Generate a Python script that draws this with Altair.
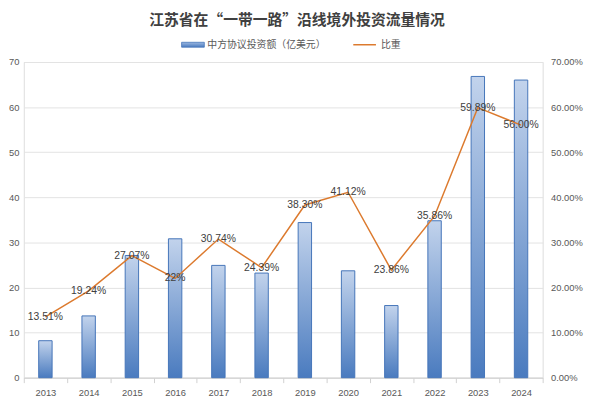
import altair as alt
import pandas as pd

title_text = "江苏省在“一带一路”沿线境外投资流量情况"
bar_name = "中方协议投资额（亿美元）"
line_name = "比重"

years = ["2013", "2014", "2015", "2016", "2017", "2018",
         "2019", "2020", "2021", "2022", "2023", "2024"]
invest = [8.2, 13.7, 27.1, 30.8, 24.9, 23.2, 34.4, 23.7, 16.0, 34.8, 66.8, 66.0]
share = [13.51, 19.24, 27.07, 22.0, 30.74, 24.39, 38.30, 41.12, 23.86, 35.86, 59.89, 56.00]
share_labels = ["13.51%", "19.24%", "27.07%", "22%", "30.74%", "24.39%",
                "38.30%", "41.12%", "23.86%", "35.86%", "59.89%", "56.00%"]

df = pd.DataFrame({
    "year": years,
    "invest": invest,
    "share": [s / 100 for s in share],
    "label": share_labels,
})

FONT = "Liberation Sans"
CJK = "Noto Sans CJK SC"
LABEL_GREY = "#595959"

blue_grad = alt.Gradient(
    gradient="linear",
    stops=[alt.GradientStop(color="#c2d3ec", offset=0),
           alt.GradientStop(color="#4a7bbf", offset=1)],
    x1=0, x2=0, y1=0, y2=1,
)

x = alt.X(
    "year:N", sort=None, title=None,
    scale=alt.Scale(paddingInner=0, paddingOuter=0),
    axis=alt.Axis(labelAngle=0, tickBand="extent", domainColor="#d0d0d0",
                  tickColor="#d0d0d0", tickSize=5, labelPadding=5,
                  labelColor=LABEL_GREY, labelFont=FONT, labelFontSize=9.5),
)

bars = alt.Chart(df).mark_bar(
    width=alt.RelativeBandSize(0.31), fill=blue_grad,
    stroke="#4575b9", strokeWidth=1,
).encode(
    x=x,
    y=alt.Y("invest:Q", title=None, scale=alt.Scale(domain=[0, 70]),
            axis=alt.Axis(values=list(range(0, 80, 10)), domain=False, ticks=False,
                          gridColor="#e3e3e3", labelPadding=5, labelColor=LABEL_GREY,
                          labelFont=FONT, labelFontSize=9.5)),
)

y_share = alt.Y("share:Q", title=None, scale=alt.Scale(domain=[0, 0.7]),
                axis=alt.Axis(orient="right", format=".2%", values=[i / 10 for i in range(8)],
                              domain=False, ticks=False, grid=False, labelPadding=8,
                              labelColor=LABEL_GREY, labelFont=FONT, labelFontSize=9.5))

line = alt.Chart(df).mark_line(color="#dc7a2e", strokeWidth=1.5).encode(x=x, y=y_share)
labels = alt.Chart(df).mark_text(font=FONT, fontSize=10.5, color="#404040").encode(
    x=x, y=y_share, text="label:N")

one = pd.DataFrame({"t": [title_text], "a": [bar_name], "b": [line_name]})
title = alt.Chart(one).mark_text(font=CJK, fontSize=15, fontWeight="bold", color="#404040").encode(
    text="t:N", x=alt.value(277), y=alt.value(-42.5))
leg_rect = alt.Chart(one).mark_rect(fill=alt.Gradient(
    gradient="linear",
    stops=[alt.GradientStop(color="#9bb7e0", offset=0),
           alt.GradientStop(color="#4a7bbf", offset=1)],
    x1=0, x2=0, y1=0, y2=1), stroke="#4575b9", strokeWidth=0.8).encode(
    x=alt.value(160), x2=alt.value(183), y=alt.value(-20), y2=alt.value(-15))
leg_text_a = alt.Chart(one).mark_text(font=CJK, fontSize=10, color=LABEL_GREY, align="left").encode(
    text="a:N", x=alt.value(186), y=alt.value(-17.5))
leg_line = alt.Chart(one).mark_rule(color="#dc7a2e", strokeWidth=1.5).encode(
    x=alt.value(334), x2=alt.value(357), y=alt.value(-17.5))
leg_text_b = alt.Chart(one).mark_text(font=CJK, fontSize=10, color=LABEL_GREY, align="left").encode(
    text="b:N", x=alt.value(362), y=alt.value(-17.5))

chart = alt.layer(
    bars, alt.layer(line, labels), title, leg_rect, leg_text_a, leg_line, leg_text_b
).resolve_scale(y="independent").properties(
    width=526, height=320,
    autosize=alt.AutoSizeParams(type="none"),
    padding={"left": 16, "top": 52, "right": 50, "bottom": 30},
).configure_view(strokeWidth=0).configure(background="white")

chart.save("out.html", embed_options={"renderer": "svg", "actions": False})
